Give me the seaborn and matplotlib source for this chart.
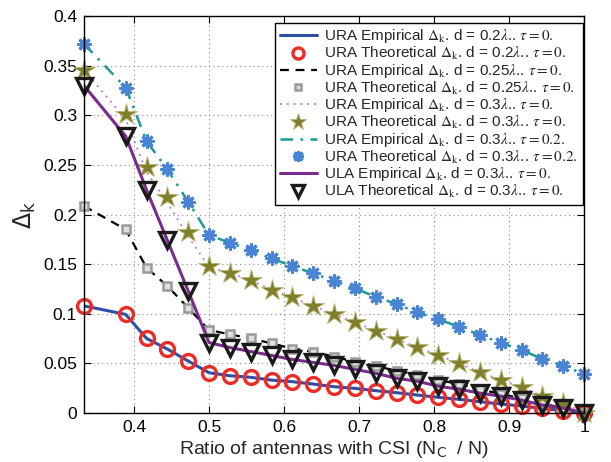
import numpy as np
import pandas as pd
import matplotlib
matplotlib.use("Agg")
import matplotlib.pyplot as plt
from matplotlib.font_manager import FontProperties
from matplotlib.ticker import FixedLocator
import seaborn as sns

# Number of antennas with CSI out of N = 36
N = 36
nc = [12, 14, 15, 16, 17, 18, 19, 20, 21, 22, 23, 24, 25, 26, 27, 28, 29, 30,
      31, 32, 33, 34, 35, 36]

ura_emp_02 = [0.108, 0.0994, 0.0752, 0.0645, 0.0524, 0.0406, 0.0376, 0.036, 0.0332,
              0.0316, 0.0292, 0.0265, 0.0249, 0.0225, 0.0205, 0.0181, 0.0158, 0.0138,
              0.0114, 0.0091, 0.007, 0.0047, 0.0023, 0.0]
ura_th_02 = [0.108, 0.0994, 0.0752, 0.0645, 0.0524, 0.0406, 0.0376, 0.036, 0.0332,
             0.0316, 0.0292, 0.0265, 0.0249, 0.0225, 0.0205, 0.0181, 0.0158, 0.0138,
             0.0114, 0.0091, 0.007, 0.0047, 0.0023, 0.0]
ura_emp_025 = [0.2086, 0.185, 0.1464, 0.128, 0.106, 0.0836, 0.0793, 0.0752, 0.0702,
               0.065, 0.0618, 0.0568, 0.0517, 0.0474, 0.0426, 0.0383, 0.0332, 0.0292,
               0.0239, 0.0191, 0.0148, 0.0098, 0.0047, 0.0]
ura_th_025 = [0.2086, 0.185, 0.1464, 0.128, 0.106, 0.0836, 0.0793, 0.0752, 0.0702,
              0.065, 0.0618, 0.0568, 0.0517, 0.0474, 0.0426, 0.0383, 0.0332, 0.0292,
              0.0239, 0.0191, 0.0148, 0.0098, 0.0047, 0.0]
ura_emp_03 = [0.346, 0.296, 0.243, 0.212, 0.178, 0.147, 0.1407, 0.134, 0.124,
              0.1166, 0.1078, 0.0997, 0.0913, 0.083, 0.0746, 0.0662, 0.0584, 0.05,
              0.041, 0.0332, 0.0259, 0.0171, 0.0104, 0.0]
ura_th_03 = [0.346, 0.301, 0.2475, 0.2173, 0.1827, 0.148, 0.1407, 0.134, 0.124,
             0.1166, 0.1078, 0.0997, 0.0913, 0.083, 0.0746, 0.0662, 0.0584, 0.05,
             0.041, 0.0332, 0.0259, 0.0171, 0.0104, 0.0]
ura_emp_03_t02 = [0.372, 0.328, 0.274, 0.2455, 0.213, 0.1793, 0.1716, 0.1642, 0.1558,
                  0.148, 0.1407, 0.1333, 0.1256, 0.1172, 0.1098, 0.1014, 0.0944, 0.087,
                  0.0786, 0.0709, 0.0635, 0.0544, 0.0477, 0.0393]
ura_th_03_t02 = [0.372, 0.328, 0.274, 0.2455, 0.213, 0.1793, 0.1716, 0.1642, 0.1558,
                 0.148, 0.1407, 0.1333, 0.1256, 0.1172, 0.1098, 0.1014, 0.0944, 0.087,
                 0.0786, 0.0709, 0.0635, 0.0544, 0.0477, 0.0393]
ula_emp_03 = [0.330, 0.279, 0.225, 0.174, 0.123, 0.071, 0.066, 0.062, 0.058,
              0.054, 0.051, 0.048, 0.044, 0.040, 0.035, 0.032, 0.027, 0.024,
              0.020, 0.017, 0.013, 0.008, 0.005, 0.0]
ula_th_03 = [0.330, 0.279, 0.225, 0.174, 0.123, 0.071, 0.066, 0.062, 0.058,
             0.054, 0.051, 0.048, 0.044, 0.040, 0.035, 0.032, 0.027, 0.024,
             0.020, 0.017, 0.013, 0.008, 0.005, 0.0]

labels = [
    r"URA Empirical $\Delta_{\rm k}$. d = 0.2$\lambda$.. $\tau = 0.$",
    r"URA Theoretical $\Delta_{\rm k}$. d = 0.2$\lambda$.. $\tau = 0.$",
    r"URA Empirical $\Delta_{\rm k}$. d = 0.25$\lambda$.. $\tau = 0.$",
    r"URA Theoretical $\Delta_{\rm k}$. d = 0.25$\lambda$.. $\tau = 0.$",
    r"URA Empirical $\Delta_{\rm k}$. d = 0.3$\lambda$.. $\tau = 0.$",
    r"URA Theoretical $\Delta_{\rm k}$. d = 0.3$\lambda$.. $\tau = 0.$",
    r"URA Empirical $\Delta_{\rm k}$. d = 0.3$\lambda$.. $\tau = 0.2.$",
    r"URA Theoretical $\Delta_{\rm k}$. d = 0.3$\lambda$.. $\tau = 0.2.$",
    r"ULA Empirical $\Delta_{\rm k}$. d = 0.3$\lambda$.. $\tau = 0.$",
    r"ULA Theoretical $\Delta_{\rm k}$. d = 0.3$\lambda$.. $\tau = 0.$",
]

x = np.array(nc) / N

sns.set_theme(style="ticks")
plt.rcParams["font.family"] = ["Liberation Sans", "DejaVu Sans"]

fig = plt.figure(figsize=(6.11, 4.62), dpi=100)
ax = fig.add_axes([0.1375, 0.106, 0.8185, 0.859])

styles = [
    dict(y=ura_emp_02, color="#2f4ea6", lw=2.2, ls="-"),
    dict(y=ura_th_02, color="#ee2b24", ls="", marker="o", ms=10, mfc="none",
         mec="#ee2b24", mew=2.4),
    dict(y=ura_emp_025, color="black", lw=1.6, ls=(0, (4, 3))),
    dict(y=ura_th_025, color="#9a9a9a", ls="", marker="s", ms=6, mfc="#e0e0e0",
         mec="#9a9a9a", mew=1.8),
    dict(y=ura_emp_03, color="#c57fd6", lw=1.4, ls=(0, (1, 2.5))),
    dict(y=ura_th_03, color="#7f7f2c", ls="", marker="*", ms=16, mfc="#7f7f2c",
         mew=0.6, mec="#b8b878"),
    dict(y=ura_emp_03_t02, color="#1c9a9a", lw=1.8, ls=(0, (5, 3, 1, 3))),
    dict(y=ura_th_03_t02, color="#4a84d6", ls="", marker=(8, 2, 0), ms=10,
         mec="#4a84d6", mew=2.2),
    dict(y=ula_emp_03, color="#7b2a8e", lw=2.2, ls="-"),
    dict(y=ula_th_03, color="#1a1a1a", ls="", marker="v", ms=11, mfc="none",
         mec="#1a1a1a", mew=2.4),
]

for lab, st in zip(labels, styles):
    st = dict(st)
    yv = st.pop("y")
    df = pd.DataFrame({"ratio": x, "delta": yv})
    ls = st.pop("ls")
    clip = "marker" not in st
    sns.lineplot(data=df, x="ratio", y="delta", ax=ax, label=lab, linestyle=ls,
                 estimator=None, sort=False, legend=False, clip_on=clip, **st)

ax.set_xlim(1 / 3, 1.0)
ax.set_ylim(0, 0.4)
ax.xaxis.set_major_locator(FixedLocator([0.4, 0.5, 0.6, 0.7, 0.8, 0.9, 1.0]))
yt = [0, 0.05, 0.1, 0.15, 0.2, 0.25, 0.3, 0.35, 0.4]
ax.set_yticks(yt)
ax.set_yticklabels(["0", "0.05", "0.1", "0.15", "0.2", "0.25", "0.3", "0.35", "0.4"])
ax.set_xticklabels(["0.4", "0.5", "0.6", "0.7", "0.8", "0.9", "1"])
ax.tick_params(direction="in", length=5, width=0.8, top=True, right=True,
               labelsize=12.5, colors="black", pad=5)
ax.grid(True, linestyle=(0, (1, 3)), color="#8a8a8a", linewidth=0.8)
for sp in ax.spines.values():
    sp.set_linewidth(1.0)
    sp.set_color("black")

ax.set_xlabel(r"Ratio of antennas with CSI (N$_{\rm C}$  / N)", fontsize=14, labelpad=3)
ax.set_ylabel(r"$\Delta_{\rm k}$", fontsize=17, labelpad=4)

handles, labs = ax.get_legend_handles_labels()
prop = FontProperties(family=["Liberation Sans", "DejaVu Sans"], size=11,
                      math_fontfamily="stix")
leg = ax.legend(handles, labs, loc="upper right", bbox_to_anchor=(0.997, 0.983),
                prop=prop, frameon=True, fancybox=False, framealpha=1,
                edgecolor="black", handlelength=2.4, handletextpad=0.5,
                labelspacing=-0.02, borderpad=0.3, borderaxespad=0.0,
                numpoints=1, markerscale=0.8)
leg.get_frame().set_linewidth(1.0)
leg.set_zorder(5)

fig.savefig("out.png", dpi=100)
